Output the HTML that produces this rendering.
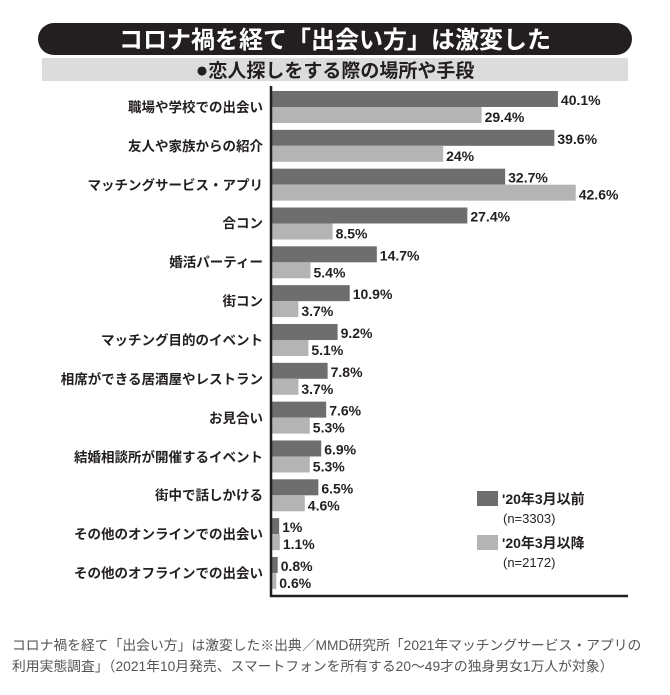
<!DOCTYPE html>
<html><head><meta charset="utf-8"><style>
body{margin:0;background:#fff;width:670px;height:690px;overflow:hidden}
</style></head><body>
<svg width="670" height="690" xmlns="http://www.w3.org/2000/svg" font-family="'Liberation Sans','Noto Sans CJK JP',sans-serif">
<rect x="38" y="23" width="594" height="32" rx="16" fill="#231f20"/>
<text x="335" y="48" text-anchor="middle" font-size="24" font-weight="bold" fill="#fff">コロナ禍を経て「出会い方」は激変した</text>
<rect x="42" y="58" width="586" height="23" fill="#dcdcdc"/>
<text x="335" y="77" text-anchor="middle" font-size="19" font-weight="bold" fill="#231f20"><tspan font-size="21">●</tspan>恋人探しをする際の場所や手段</text>
<g font-size="13.5" font-weight="bold" fill="#231f20" text-anchor="end">
<text x="263" y="112">職場や学校での出会い</text>
<text x="263" y="151">友人や家族からの紹介</text>
<text x="263" y="190">マッチングサービス・アプリ</text>
<text x="263" y="228">合コン</text>
<text x="263" y="267">婚活パーティー</text>
<text x="263" y="306">街コン</text>
<text x="263" y="345">マッチング目的のイベント</text>
<text x="263" y="384">相席ができる居酒屋やレストラン</text>
<text x="263" y="423">お見合い</text>
<text x="263" y="462">結婚相談所が開催するイベント</text>
<text x="263" y="500">街中で話しかける</text>
<text x="263" y="539">その他のオンラインでの出会い</text>
<text x="263" y="578">その他のオフラインでの出会い</text>
</g>
<g id="bars"></g>
<line x1="271" y1="86" x2="271" y2="597" stroke="#231f20" stroke-width="2.5"/>
<line x1="270" y1="596" x2="628" y2="596" stroke="#231f20" stroke-width="2.5"/>
<rect x="477" y="491" width="21" height="15" fill="#6e6e6e"/>
<text x="502" y="504" font-size="14" font-weight="bold" fill="#231f20">'20年3月以前</text>
<text x="503" y="523" font-size="13" fill="#231f20">(n=3303)</text>
<rect x="477" y="535" width="21" height="15" fill="#b4b4b4"/>
<text x="502" y="548" font-size="14" font-weight="bold" fill="#231f20">'20年3月以降</text>
<text x="503" y="567" font-size="13" fill="#231f20">(n=2172)</text>
<g font-size="13.8" fill="#555">
<text x="12" y="650">コロナ禍を経て「出会い方」は激変した※出典／MMD研究所「2021年マッチングサービス・アプリの</text>
<text x="12" y="671">利用実態調査」（2021年10月発売、スマートフォンを所有する20〜49才の独身男女1万人が対象）</text>
</g>
</svg>
<script>
var d=[[40.1,29.4,"40.1%","29.4%"],[39.6,24,"39.6%","24%"],[32.7,42.6,"32.7%","42.6%"],[27.4,8.5,"27.4%","8.5%"],[14.7,5.4,"14.7%","5.4%"],[10.9,3.7,"10.9%","3.7%"],[9.2,5.1,"9.2%","5.1%"],[7.8,3.7,"7.8%","3.7%"],[7.6,5.3,"7.6%","5.3%"],[6.9,5.3,"6.9%","5.3%"],[6.5,4.6,"6.5%","4.6%"],[1,1.1,"1%","1.1%"],[0.8,0.6,"0.8%","0.6%"]];
var s="",k=7.13,x0=272;
d.forEach(function(r,i){var y=91+i*38.83;var w1=r[0]*k,w2=r[1]*k;
s+='<rect x="'+x0+'" y="'+y+'" width="'+w1+'" height="16" fill="#6e6e6e"/>';
s+='<rect x="'+x0+'" y="'+(y+16)+'" width="'+w2+'" height="16" fill="#b4b4b4"/>';
s+='<text x="'+(x0+w1+3)+'" y="'+(y+14)+'" font-size="14" font-weight="bold" fill="#231f20">'+r[2]+'</text>';
s+='<text x="'+(x0+w2+3)+'" y="'+(y+31)+'" font-size="14" font-weight="bold" fill="#231f20">'+r[3]+'</text>';});
document.getElementById("bars").innerHTML=s;
</script>
</body></html>
